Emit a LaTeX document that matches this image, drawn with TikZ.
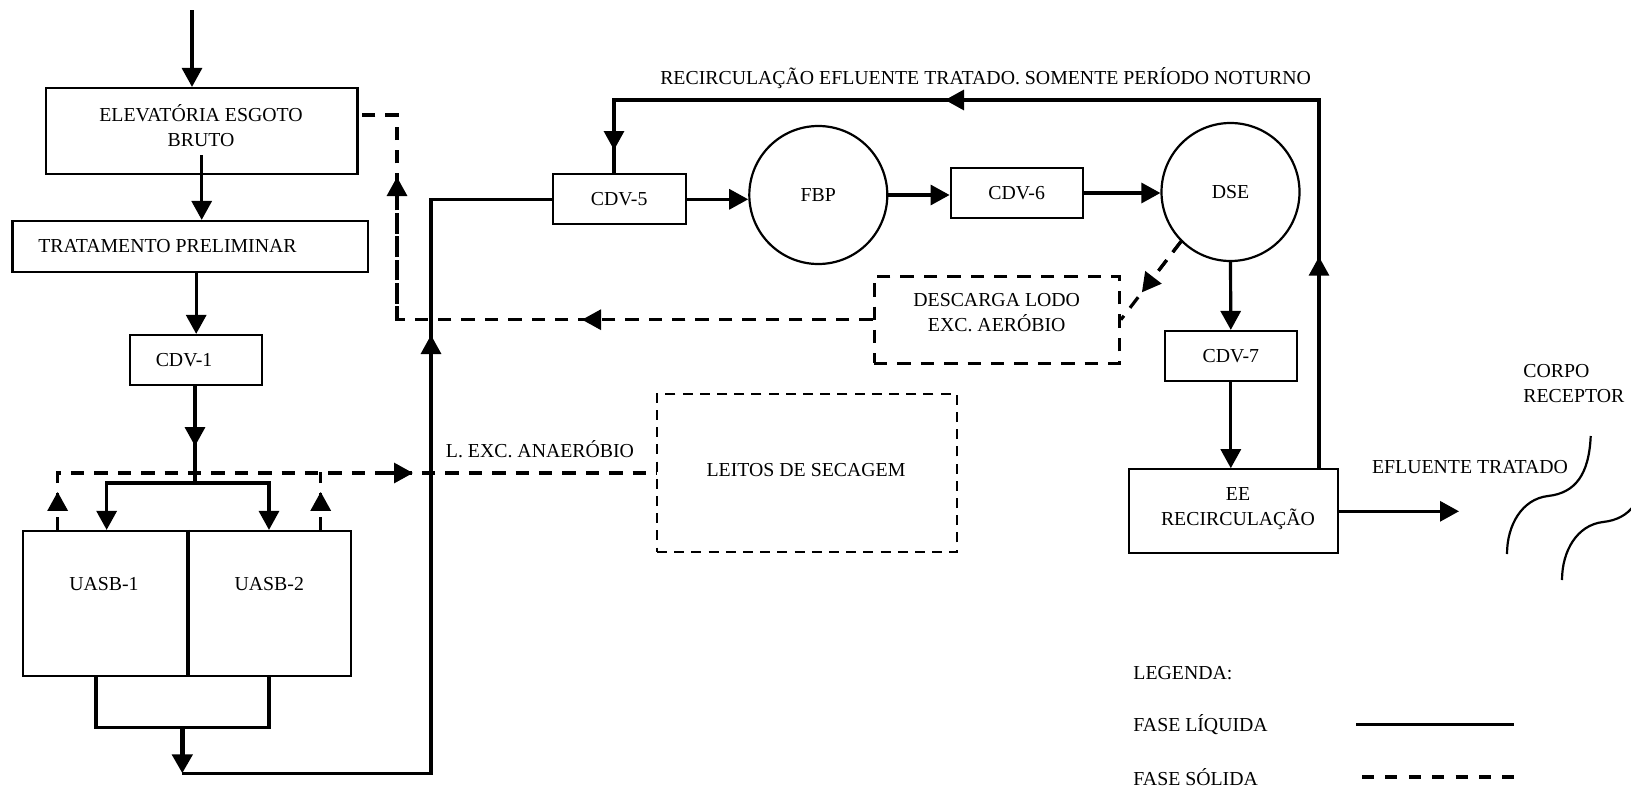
\documentclass[tikz,border=0pt]{standalone}
\usepackage{fontspec}
\setmainfont{Liberation Serif}
\usetikzlibrary{arrows.meta,calc}
\begin{document}
\begin{tikzpicture}[x=0.5pt,y=-0.5pt,
  >={Triangle[length=9.5pt,width=10pt]},
  every node/.style={font=\fontsize{9.9}{12.5}\selectfont},
  flow/.style={line width=1.6pt},
  sludge/.style={line width=1.6pt,dash pattern=on 6.7pt off 5pt},
  box/.style={draw,line width=1.1pt,inner sep=0pt,align=center},
  dbox/.style={draw,line width=1.5pt,inner sep=0pt,dash pattern=on 6.7pt off 5pt},
  lbox/.style={draw,line width=1pt,inner sep=0pt,dash pattern=on 5pt off 3.6pt},
  circ/.style={draw,circle,line width=1.1pt,minimum size=69pt,inner sep=0pt},
  lbl/.style={inner sep=0pt,align=center}]
\useasboundingbox (0,0) rectangle (1631,787);

% ---------- nodes ----------
\node[box,minimum width=155.9pt,minimum height=43pt] (elev) at (201.6,131) {};
\node[lbl] (elevlbl) at (201,125.5) {ELEVATÓRIA ESGOTO\\BRUTO};
\node[box,minimum width=177.75pt,minimum height=25.5pt] (trat) at (190.3,246.5) {};
\node[lbl,anchor=west] (tratlbl) at (38,246.5) {TRATAMENTO PRELIMINAR};
\node[box,minimum width=66.15pt,minimum height=25pt] (cdv1) at (196.2,360) {};
\node[lbl] (cdv1lbl) at (184,360) {CDV-1};
\node[box,minimum width=82.15pt,minimum height=72.5pt] (uasb1) at (104.85,603.5) {};
\node[box,minimum width=82pt,minimum height=72.5pt] (uasb2) at (269,603.5) {};
\draw[line width=1.9pt] (uasb1.north east) -- (uasb1.south east);
\node[lbl] (u1lbl) at (104,584) {UASB-1};
\node[lbl] (u2lbl) at (269.3,584) {UASB-2};
\node[box,minimum width=66.5pt,minimum height=25pt] (cdv5) at (619.2,199.3) {CDV-5};
\node[circ] (fbp) at (818.3,195) {FBP};
\node[box,minimum width=66pt,minimum height=24.7pt] (cdv6) at (1016.7,193) {CDV-6};
\node[circ] (dse) at (1230.5,192) {DSE};
\node[box,minimum width=65.85pt,minimum height=25pt] (cdv7) at (1230.8,356) {CDV-7};
\node[box,minimum width=104.5pt,minimum height=42pt] (ee) at (1233.8,511.3) {};
\node[lbl] (eelbl) at (1238,509) {EE\\RECIRCULAÇÃO};
\node[dbox,minimum width=122.65pt,minimum height=43.65pt] (desc) at (996.7,319.7) {};
\node[lbl] (desclbl) at (996.7,313) {DESCARGA LODO\\EXC. AERÓBIO};
\node[lbox,minimum width=150pt,minimum height=79pt] (leitos) at (807,473) {};
\node[lbl] (leitlbl) at (806,470) {LEITOS DE SECAGEM};

\node[lbl] (rectxt) at (985.6,78) {RECIRCULAÇÃO EFLUENTE TRATADO. SOMENTE PERÍODO NOTURNO};
\node[lbl] (effl) at (1470,467) {EFLUENTE TRATADO};
\node[lbl,anchor=west,align=left] (corpo) at (1523,384) {CORPO\\RECEPTOR};
\node[lbl] (lexc) at (540,449) {L. EXC. ANAERÓBIO};
\node[lbl,anchor=west] (leg) at (1133,673) {LEGENDA:};
\node[lbl,anchor=west] (liq) at (1133,725) {FASE LÍQUIDA};
\node[lbl,anchor=west] (sol) at (1133,777) {FASE SÓLIDA};

% ---------- liquid line ----------
\coordinate (in) at (192,10);
\draw[flow,->] (in) -- (in |- elev.north);
\coordinate (e1) at (201.7,155);
\draw[flow,->] (e1) -- (e1 |- trat.north);
\draw[flow,->] (trat.south -| cdv1.north) -- (cdv1.north);
\coordinate (j) at (195,483);
\draw[flow] (cdv1.south -| j) -- (j);
\draw[flow,->] (cdv1.south -| j) -- ++(0,60);
\draw[flow,->] (j) -| ([xshift=0.9pt]uasb1.north);
\draw[flow,->] (j) -| (uasb2.north);

\draw[flow] ([xshift=-4.4pt]uasb1.south) -- ++(0,50) -| (uasb2.south);
\coordinate (m) at (182.3,726);
\coordinate (b) at (182.3,773.3);
\draw[line width=2.4pt,->] (m) -- (b);
\coordinate (v) at (431,773.3);
\coordinate (vt) at (431,335);
\draw[flow] (b) -- (v) |- (cdv5.west);
\draw[flow,->] (v) -- (vt);

\draw[flow,->] (cdv5.east) -- (cdv5.east -| fbp.west);
\draw[flow,->] (fbp.east) -- (fbp.east -| cdv6.west);
\draw[flow,->] (cdv6.east) -- (cdv6.east -| dse.west);
\draw[flow,->] (dse.south) -- (cdv7.north);
\draw[flow,->] (cdv7.south) -- (cdv7.south |- ee.north);
\coordinate (out) at (1459,511.3);
\draw[flow,->] (ee.east) -- (out);

% recirculation
\coordinate (rtop) at (1319,100);
\coordinate (ltop) at (614,100);
\coordinate (rup) at (1319,256.7);
\coordinate (rleft) at (945,100);
\draw[flow] ([xshift=42.6pt]ee.north) -- (rtop) -- (ltop) -- (ltop |- cdv5.north);
\draw[flow,->] ([xshift=42.6pt]ee.north) -- (rup);
\draw[flow,->] (rtop) -- (rleft);
\draw[flow,->] (ltop) -- ++(0,50);

% ---------- solid (sludge) line ----------
\coordinate (s1) at ([xshift=-23.6pt]uasb1.north);
\coordinate (s2) at ([xshift=25.85pt]uasb2.north);
\draw[sludge] (s1) |- (leitos.west);
\draw[sludge,->] (s1) -- ++(0,-38);
\draw[sludge] (s2) -- ++(0,-58);
\draw[sludge,->] (s2) -- ++(0,-38);
\coordinate (a1) at (413,473);
\coordinate (a0) at (385,473);
\draw[flow,->] (a0) -- (a1);

\path (dse.225) -- (desc.east) coordinate[pos=0.65] (dtip);
\draw[sludge] (dse.225) -- (desc.east);
\draw[sludge,->] (dse.225) -- (dtip);

\coordinate (dc) at (397,319.7);
\coordinate (dl) at (582,319.7);
\coordinate (du) at (397,177);
\draw[sludge] (desc.west) -- (dc) |- ([yshift=8pt]elev.east);
\draw[sludge,->] (desc.west) -- (dl);
\draw[sludge,->] (dc) -- (du);

% ---------- legend ----------
\coordinate (l1a) at (1356,724.3);
\coordinate (l1b) at (1514,724.3);
\draw[flow] (l1a) -- (l1b);
\coordinate (l2a) at (1362,777);
\coordinate (l2b) at (1515,777);
\draw[line width=1.6pt,dash pattern=on 6pt off 5.7pt] (l2a) -- (l2b);

% ---------- receiving body ----------
\begin{scope}
\clip (0,0) rectangle (1631,787);
\draw[line width=1.1pt] (1590.7,436) .. controls (1589,475) and (1575,493) .. (1548,496)
   .. controls (1522,499) and (1507,525) .. (1507,554);
\draw[line width=1.1pt] (1645.7,462) .. controls (1644,501) and (1630,519) .. (1603,522)
   .. controls (1577,525) and (1562,551) .. (1562,580);
\end{scope}
\end{tikzpicture}
\end{document}
